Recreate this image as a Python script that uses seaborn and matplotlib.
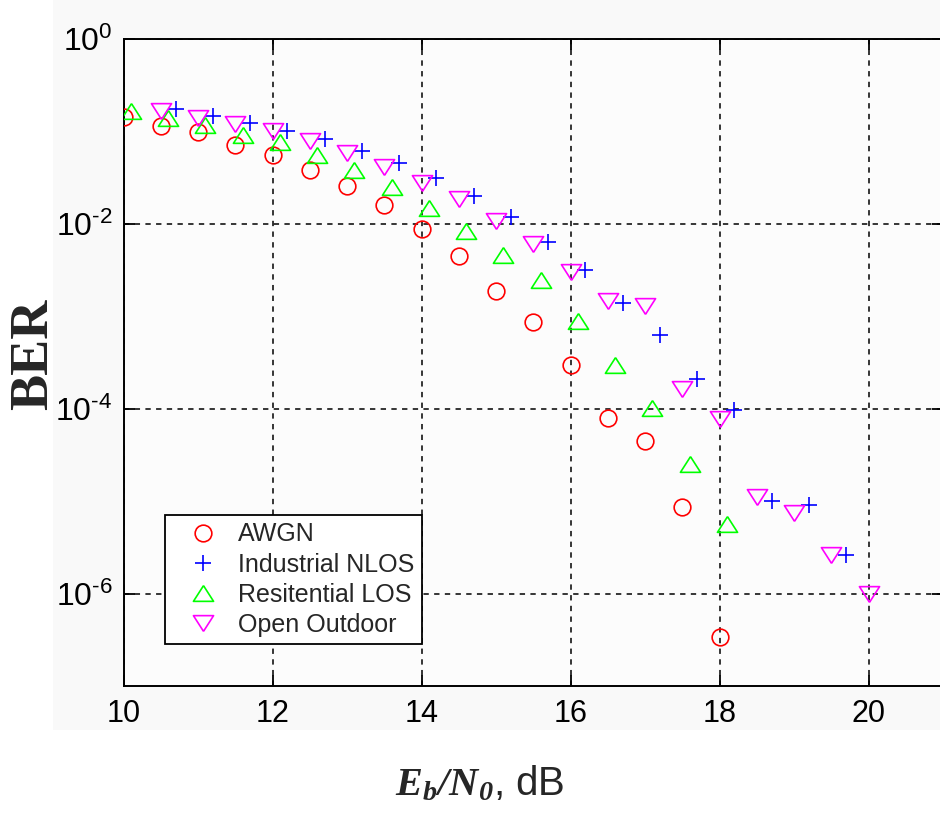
import matplotlib
matplotlib.use("Agg")
import matplotlib.pyplot as plt
from matplotlib.patches import Rectangle
from matplotlib.ticker import FixedLocator, NullLocator, FuncFormatter
import numpy as np
import pandas as pd
import seaborn as sns

# BER measurements per channel model (Eb/N0 in dB)
awgn_ebn0 = [10.0, 10.5, 11.0, 11.5, 12.0, 12.5, 13.0, 13.5, 14.0, 14.5, 15.0,
             15.5, 16.0, 16.5, 17.0, 17.5, 18.0]
awgn_ber = [0.144, 0.115, 0.098, 0.072, 0.056, 0.038, 0.026, 0.016, 0.0089, 0.0045,
            0.0019, 8.6e-4, 2.95e-4, 7.9e-5, 4.5e-5, 8.7e-6, 3.4e-7]

nlos_ebn0 = [10.7, 11.2, 11.7, 12.2, 12.7, 13.2, 13.7, 14.2, 14.7, 15.2, 15.7,
             16.2, 16.7, 17.2, 17.7, 18.2, 18.7, 19.2, 19.7]
nlos_ber = [0.177, 0.148, 0.123, 0.102, 0.082, 0.062, 0.046, 0.031, 0.020, 0.012,
            0.0064, 0.0032, 0.00138, 6.2e-4, 2.1e-4, 9.7e-5, 1.0e-5, 9.1e-6, 2.6e-6]

los_ebn0 = [10.1, 10.6, 11.1, 11.6, 12.1, 12.6, 13.1, 13.6, 14.1, 14.6, 15.1,
            15.6, 16.1, 16.6, 17.1, 17.6, 18.1]
los_ber = [0.167, 0.138, 0.117, 0.091, 0.076, 0.055, 0.038, 0.025, 0.0149, 0.0083,
           0.0046, 0.0025, 8.9e-4, 3.0e-4, 1.03e-4, 2.5e-5, 5.6e-6]

outdoor_ebn0 = [10.5, 11.0, 11.5, 12.0, 12.5, 13.0, 13.5, 14.0, 14.5, 15.0, 15.5,
                16.0, 16.5, 17.0, 17.5, 18.0, 18.5, 19.0, 19.5, 20.0]
outdoor_ber = [0.167, 0.14, 0.12, 0.102, 0.079, 0.059, 0.041, 0.028, 0.0187, 0.0107,
               0.0060, 0.0030, 0.00148, 0.00128, 1.63e-4, 7.8e-5, 1.1e-5, 7.4e-6,
               2.6e-6, 9.8e-7]

series_labels = ["AWGN", "Industrial NLOS", "Resitential LOS", "Open Outdoor"]
x_ticks = [10, 12, 14, 16, 18, 20]
y_ticks = [1e-6, 1e-4, 1e-2, 1e0]

sns.set_style("ticks")
plt.rcParams.update({
    "font.family": ["Liberation Sans", "DejaVu Sans"],
    "mathtext.fontset": "custom",
    "mathtext.rm": "Liberation Sans",
    "mathtext.it": "Liberation Sans:italic",
    "mathtext.bf": "Liberation Sans:bold",
    "mathtext.bfit": "Liberation Serif:italic:bold",
    "axes.unicode_minus": False,
})

W, H = 940, 823
fig = plt.figure(figsize=(W / 100, H / 100), dpi=100)
fig.patch.set_facecolor("white")
fig.patches.append(Rectangle((53 / W, 1 - 730 / H), 1, 730 / H,
                             transform=fig.transFigure, facecolor="#f9f9f9",
                             edgecolor="none", zorder=-10))

left, right, top, bottom = 123.5, 943, 39, 686
ax = fig.add_axes([left / W, 1 - bottom / H, (right - left) / W, (bottom - top) / H])
ax.set_facecolor("#fcfcfc")

tri_up = [(0, 0.78), (-1, -0.78), (1, -0.78), (0, 0.78)]
tri_dn = [(0, -0.78), (-1, 0.78), (1, 0.78), (0, -0.78)]

styles = [
    (awgn_ebn0, awgn_ber, "o", 12, "#ff0000"),
    (nlos_ebn0, nlos_ber, "+", 11, "#0000ff"),
    (los_ebn0, los_ber, tri_up, 14.5, "#00ff00"),
    (outdoor_ebn0, outdoor_ber, tri_dn, 14.5, "#ff00ff"),
]

for (xs, ys, mk, ms, col), lab in zip(styles, series_labels):
    df = pd.DataFrame({"ebn0": xs, "ber": ys})
    sns.lineplot(data=df, x="ebn0", y="ber", ax=ax, estimator=None, sort=False,
                 linestyle="", marker=mk, markersize=ms, color=col,
                 markerfacecolor="none", markeredgecolor=col,
                 markeredgewidth=1.2, label=lab, zorder=3)

ax.set_yscale("log")
ax.set_xlim(10, 21)
ax.set_ylim(1e-7, 1)
ax.xaxis.set_major_locator(FixedLocator(x_ticks))
ax.yaxis.set_major_locator(FixedLocator(y_ticks))
ax.yaxis.set_minor_locator(NullLocator())
ax.xaxis.set_minor_locator(NullLocator())


def decade_label(v, pos):
    e = int(round(np.log10(v)))
    exp = r"\text{-}" + str(-e) if e < 0 else str(e)
    return r"$\mathregular{10^{" + exp + r"}}$"


ax.yaxis.set_major_formatter(FuncFormatter(decade_label))

ax.grid(True, which="major", color="black", linestyle=(0, (3.5, 3.5)), linewidth=1.1)
ax.set_axisbelow(True)
ax.tick_params(direction="in", length=8, width=1.3, top=True, right=True,
               labelsize=22, colors="black")
ax.tick_params(axis="y", labelsize=23, pad=8)
ax.tick_params(axis="x", pad=9)
for sp in ax.spines.values():
    sp.set_visible(True)
    sp.set_linewidth(1.4)
    sp.set_color("black")

ax.set_xlabel("")
ax.set_ylabel("")

leg = ax.legend(loc="lower left", bbox_to_anchor=((165 - left) / (right - left),
                                                  (bottom - 644) / (bottom - top)),
                borderaxespad=0, fontsize=18, frameon=True, fancybox=False,
                framealpha=1, facecolor="white", edgecolor="black",
                handlelength=2.45, handletextpad=0.2, labelspacing=0.25,
                borderpad=0.28)
leg.get_frame().set_linewidth(1.3)

fig.text(34 / W, 1 - 354 / H, "BER", rotation=90, ha="center", va="center",
         fontsize=39, fontweight="bold", family="Liberation Serif")
fig.text(480 / W, 1 - 795 / H, r"$\mathbfit{E_b/N_0}$, dB", ha="center",
         va="baseline", fontsize=29)

fig.savefig("out.png", dpi=100, facecolor=fig.get_facecolor())
